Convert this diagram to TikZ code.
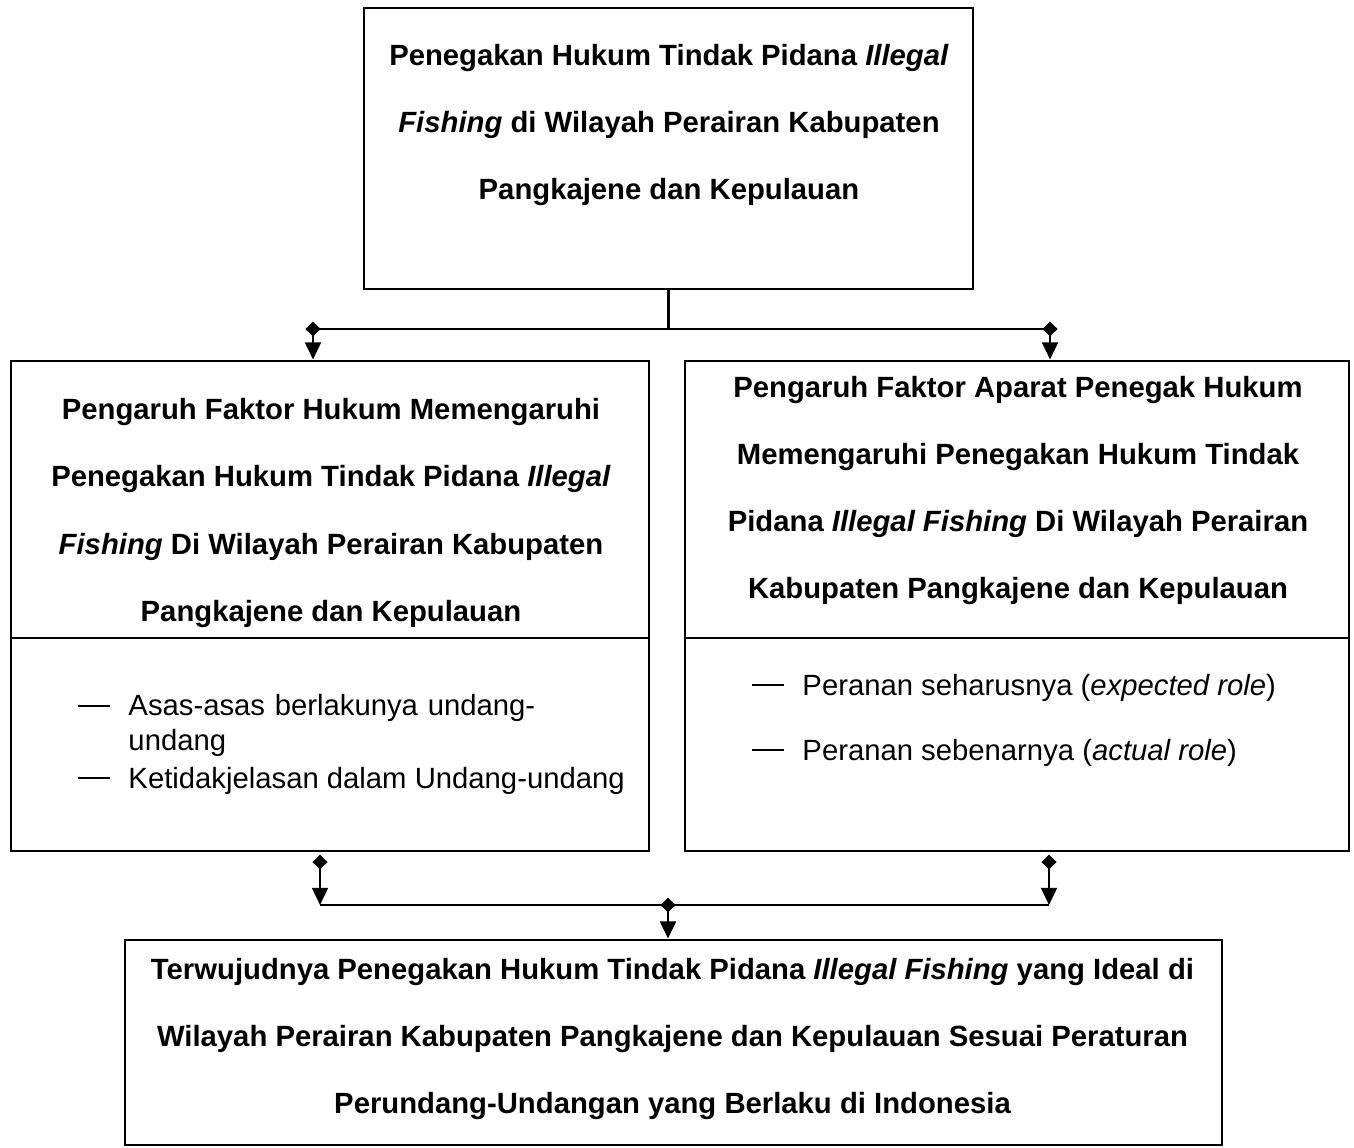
\documentclass[tikz,border=0pt]{standalone}
\usepackage{fontspec}
\setmainfont{Liberation Sans}
\usetikzlibrary{arrows.meta,positioning,calc}

\newlength\pxu
\setlength\pxu{0.41pt}
\newcommand{\dashmark}{\makebox[50\pxu][l]{\rule[9\pxu]{32\pxu}{1.8\pxu}}}

\begin{document}
\begin{tikzpicture}[
  x=0.41pt, y=-0.41pt,
  box/.style   = {draw, line width=1.2pt, inner sep=0pt},
  title/.style = {align=center, inner sep=0pt, font=\fontsize{12}{27.5}\selectfont\bfseries},
  item/.style  = {inner sep=0pt, font=\fontsize{12}{14.4}\selectfont},
  line/.style  = {line width=1.2pt},
  link/.style  = {line, {Diamond[length=6pt,width=6.2pt]}-{Triangle[length=7pt,width=6.4pt]}, shorten <=-3pt}
]
\useasboundingbox (0,0) rectangle (1354,1147);

% Boxes
\node[box, minimum width=609*\pxu, minimum height=281*\pxu] (top)  at (668.5,148.5) {};
\node[box, minimum width=638*\pxu, minimum height=490*\pxu] (hl)   at (330,606) {};
\node[box, minimum width=664*\pxu, minimum height=490*\pxu] (hr)   at (1017,606) {};
\node[box, minimum width=1097*\pxu, minimum height=205*\pxu] (goal) at (673.5,1042.5) {};

% Dividers
\coordinate (div) at (0,638);
\draw[line] (hl.west |- div) -- (hl.east |- div);
\draw[line] (hr.west |- div) -- (hr.east |- div);

% Titles
\node[title] (toptxt) at (669,125) {Penegakan Hukum Tindak Pidana \textit{Illegal}\\
  \textit{Fishing} di Wilayah Perairan Kabupaten\\
  Pangkajene dan Kepulauan};
\node[title] (hltxt) at (331,513) {Pengaruh Faktor Hukum Memengaruhi\\
  Penegakan Hukum Tindak Pidana \textit{Illegal}\\
  \textit{Fishing} Di Wilayah Perairan Kabupaten\\
  Pangkajene dan Kepulauan};
\node[title] (hrtxt) at (1018,490.5) {Pengaruh Faktor Aparat Penegak Hukum\\
  Memengaruhi Penegakan Hukum Tindak\\
  Pidana \textit{Illegal Fishing} Di Wilayah Perairan\\
  Kabupaten Pangkajene dan Kepulauan};
\node[title] (goaltxt) at (672.5,1039) {Terwujudnya Penegakan Hukum Tindak Pidana \textit{Illegal Fishing} yang Ideal di\\
  Wilayah Perairan Kabupaten Pangkajene dan Kepulauan Sesuai Peraturan\\
  Perundang-Undangan yang Berlaku di Indonesia};

% Items
\node[item, anchor=north west, text width=540*\pxu] (la1) at (78,694)
  {\dashmark Asas-asas berlakunya undang-\newline\hspace*{50\pxu}undang};
\node[item, anchor=base west] (la2) at (78,788) {\dashmark Ketidakjelasan dalam Undang-undang};
\node[item, anchor=base west] (ra1) at (752,695) {\dashmark Peranan seharusnya (\textit{expected role})};
\node[item, anchor=base west] (ra2) at (752,760) {\dashmark Peranan sebenarnya (\textit{actual role})};

% Upper connectors
\coordinate (jl) at (313,329);
\coordinate (jr) at (1050,329);
\draw[line] (top.south) -- (top.south |- jl);
\draw[line] (jl) -- (jr);
\draw[link] (jl) -- (jl |- hl.north);
\draw[link] (jr) -- (jr |- hr.north);

% Lower connectors
\coordinate (bl) at (320,862);
\coordinate (br) at (1049,862);
\coordinate (jb) at (668,905);
\draw[link] (bl) -- (bl |- jb);
\draw[link] (br) -- (br |- jb);
\draw[line] (bl |- jb) -- (br |- jb);
\draw[link] (jb) -- (jb |- goal.north);

\end{tikzpicture}
\end{document}
